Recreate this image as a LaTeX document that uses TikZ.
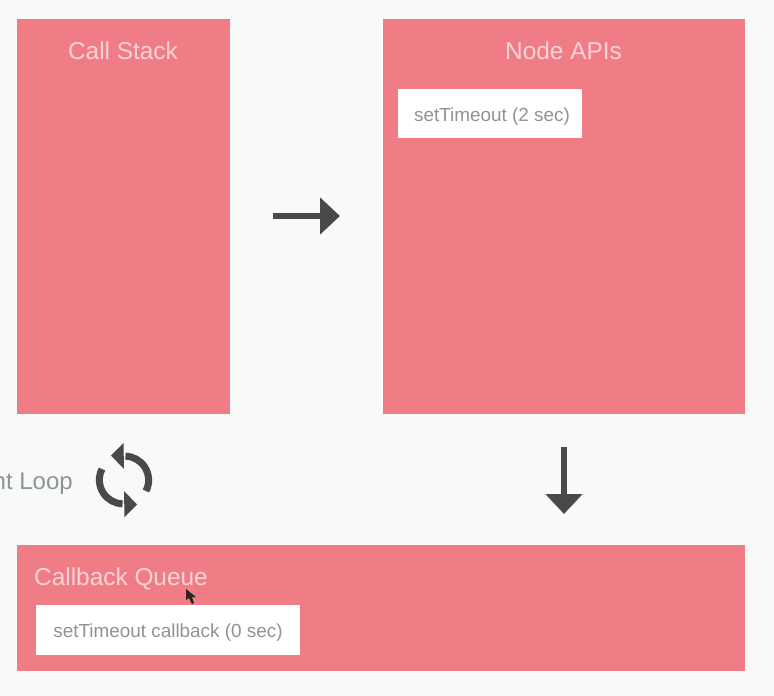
\documentclass[tikz,border=0pt]{standalone}
\usepackage{fontspec}
\setmainfont{Liberation Sans}
\usetikzlibrary{arrows.meta}
\definecolor{bgc}{HTML}{F8FAF8}
\definecolor{pinkc}{HTML}{F07C85}
\definecolor{titlec}{HTML}{FBD3D6}
\definecolor{greyc}{HTML}{909393}
\definecolor{darkc}{HTML}{484A49}
\tikzset{
  panel/.style={fill=pinkc,draw=none,inner sep=0pt,outer sep=0pt},
  card/.style={fill=white,draw=none,inner sep=0pt,outer sep=0pt},
  paneltitle/.style={text=titlec,font=\fontsize{24.4}{28}\selectfont,inner sep=0pt},
  cardtext/.style={text=greyc,font=\fontsize{18.9}{22}\selectfont,inner sep=0pt},
  flow/.style={draw=darkc,line width=6.5pt,-{Triangle[length=20pt,width=36pt,fill=darkc]}},
  loopline/.style={draw=darkc,line width=7pt},
  loophead/.style={fill=darkc,draw=none}
}
\begin{document}
\begin{tikzpicture}[x=1pt,y=-1pt]
\useasboundingbox (0,0) rectangle (774,696);
\clip (0,0) rectangle (774,696);
\fill[bgc] (0,0) rectangle (774,696);
% panels
\fill[panel] (17,19) rectangle (230,414);
\fill[panel] (383,19) rectangle (745,414);
\fill[panel] (17,545) rectangle (745,671);
\fill[card] (398,89) rectangle (582,138);
\fill[card] (36,605) rectangle (300,655);
% texts
\node[paneltitle,anchor=base] (stack) at (123,59) {Call Stack};
\node[paneltitle,anchor=base] (apis) at (563.5,59) {Node APIs};
\node[paneltitle,anchor=base west] (queue) at (34,585) {Callback Queue};
\node[cardtext,anchor=base] (timer) at (492,121) {setTimeout (2 sec)};
\node[cardtext,anchor=base] (cb) at (168,637) {setTimeout callback (0 sec)};
\node[anchor=base east,inner sep=0pt,text=greyc,font=\fontsize{24}{28}\selectfont] (loop) at (73,489) {nt Loop};
% arrows
\coordinate (r1) at (273,216);
\coordinate (r2) at (340,216);
\coordinate (d1) at (564,447);
\coordinate (d2) at (564,514);
\draw[flow] (r1) -- (r2);
\draw[flow] (d1) -- (d2);
% loop icon
\draw[loopline] (146,491) arc[start angle=27,end angle=-88,radius=24];
\draw[loopline] (102,469) arc[start angle=207,end angle=92,radius=24];
\fill[loophead] (111,455.5) -- (123.5,443) -- (124,469) -- cycle;
\fill[loophead] (137,504.5) -- (124.5,517) -- (124,491) -- cycle;
% cursor
\fill[black!85] (186,589) -- (186,600) -- (189,598) -- (192,604) -- (194,603) -- (192,597) -- (196,597) -- cycle;
\end{tikzpicture}
\end{document}
